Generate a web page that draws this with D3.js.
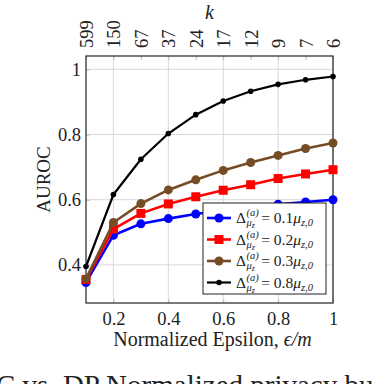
<!DOCTYPE html>
<html>
<head>
<meta charset="utf-8">
<script src="https://cdn.jsdelivr.net/npm/d3@7"></script>
<style>
  html, body { margin: 0; padding: 0; background: #fff; }
  svg { display: block; }
  text { font-family: "Liberation Serif", "DejaVu Serif", serif; fill: #222; }
</style>
</head>
<body>
<div id="chart"></div>
<script>
// AUROC vs. normalized epsilon, one line per Delta setting
const epsilon = [0.1, 0.2, 0.3, 0.4, 0.5, 0.6, 0.7, 0.8, 0.9, 1.0];
const kLabels = ['599', '150', '67', '37', '24', '17', '12', '9', '7', '6'];
const xTicks = [0.2, 0.4, 0.6, 0.8, 1];
const yTicks = [0.4, 0.6, 0.8, 1];

const auroc01 = [0.346, 0.491, 0.526, 0.542, 0.556, 0.567, 0.577, 0.586, 0.593, 0.600];
const auroc02 = [0.355, 0.510, 0.558, 0.587, 0.609, 0.629, 0.646, 0.665, 0.679, 0.692];
const auroc03 = [0.357, 0.530, 0.588, 0.630, 0.661, 0.690, 0.714, 0.736, 0.757, 0.774];
const auroc08 = [0.395, 0.616, 0.724, 0.803, 0.861, 0.903, 0.933, 0.954, 0.968, 0.978];

const seriesNames = ['0.1', '0.2', '0.3', '0.8'];
const seriesValues = [auroc01, auroc02, auroc03, auroc08];
const seriesColors = ['#0000ff', '#ff0000', '#754c24', '#000000'];
const seriesMarks = ['circle', 'square', 'circle', 'dot'];

const width = 374, height = 384;
const pLeft = 86, pRight = 333, pTop = 56, pBottom = 303;

const svg = d3.select('#chart').append('svg')
  .attr('width', width)
  .attr('height', height);

const x = d3.scaleLinear().domain([0.1, 1]).range([pLeft, pRight]);
const y = d3.scaleLinear().domain([0.283, 1.041]).range([pBottom, pTop]);

// grid
const grid = svg.append('g').attr('stroke', '#d9d9d9').attr('stroke-width', 1);
grid.selectAll('line.v').data(xTicks).join('line')
  .attr('x1', d => x(d)).attr('x2', d => x(d))
  .attr('y1', pTop).attr('y2', pBottom);
grid.selectAll('line.h').data(yTicks).join('line')
  .attr('y1', d => y(d)).attr('y2', d => y(d))
  .attr('x1', pLeft).attr('x2', pRight);

// axes with inward ticks
const fmt = d => d === 1 ? '1' : d3.format('.1f')(d);
const xAxis = d3.axisBottom(x).tickValues(xTicks).tickFormat(fmt)
  .tickSizeInner(-4).tickSizeOuter(0).tickPadding(9);
const gx = svg.append('g').attr('transform', `translate(0,${pBottom})`).call(xAxis);

const yAxis = d3.axisLeft(y).tickValues(yTicks).tickFormat(fmt)
  .tickSizeInner(-4).tickSizeOuter(0).tickPadding(5);
const gy = svg.append('g').attr('transform', `translate(${pLeft},0)`).call(yAxis);

const kAxis = d3.axisTop(x).tickValues(epsilon).tickFormat((d, i) => kLabels[i])
  .tickSizeInner(-4).tickSizeOuter(0);
const gk = svg.append('g').attr('transform', `translate(0,${pTop})`).call(kAxis);
gk.selectAll('.tick text')
  .attr('transform', 'rotate(-90)')
  .attr('x', 8)
  .attr('y', 0)
  .attr('dy', '0.35em')
  .attr('text-anchor', 'start');

[gx, gy, gk].forEach(g => {
  g.select('.domain').remove();
  g.selectAll('.tick line').attr('stroke', '#bbb');
  g.selectAll('.tick text')
    .attr('font-family', '"Liberation Serif", serif')
    .attr('font-size', 18.5)
    .attr('fill', '#222');
});

svg.append('rect')
  .attr('x', pLeft).attr('y', pTop)
  .attr('width', pRight - pLeft).attr('height', pBottom - pTop)
  .attr('fill', 'none').attr('stroke', '#222').attr('stroke-width', 1.2);

// series
const line = d3.line().x((d, i) => x(epsilon[i])).y(d => y(d));

function drawMark(g, kind, cx, cy, color) {
  if (kind === 'circle') {
    g.append('circle').attr('cx', cx).attr('cy', cy).attr('r', 4.5).attr('fill', color);
  } else if (kind === 'square') {
    g.append('rect').attr('x', cx - 4.5).attr('y', cy - 4.5)
      .attr('width', 9).attr('height', 9).attr('fill', color);
  } else {
    g.append('circle').attr('cx', cx).attr('cy', cy).attr('r', 2.8).attr('fill', color);
  }
}

seriesValues.forEach((vals, s) => {
  const g = svg.append('g');
  g.append('path').datum(vals)
    .attr('d', line)
    .attr('fill', 'none')
    .attr('stroke', seriesColors[s])
    .attr('stroke-width', s === 3 ? 2.2 : 2.6)
    .attr('stroke-linejoin', 'round');
  vals.forEach((v, i) => drawMark(g, seriesMarks[s], x(epsilon[i]), y(v), seriesColors[s]));
});

// legend
const lg = svg.append('g');
const lx = 203, ly = 203, lw = 123, lh = 91;
lg.append('rect').attr('x', lx).attr('y', ly).attr('width', lw).attr('height', lh)
  .attr('fill', '#fff').attr('stroke', '#222').attr('stroke-width', 1);

seriesNames.forEach((name, s) => {
  const cy = ly + 15 + s * 21.5;
  lg.append('line').attr('x1', lx + 4).attr('x2', lx + 28).attr('y1', cy).attr('y2', cy)
    .attr('stroke', seriesColors[s]).attr('stroke-width', s === 3 ? 2.2 : 2.6);
  drawMark(lg, seriesMarks[s], lx + 16, cy, seriesColors[s]);

  const tx = lx + 33, base = cy + 5;
  const delta = lg.append('text').attr('x', tx).attr('y', base).attr('font-size', 15.5).text('Δ');
  const dw = delta.node().getComputedTextLength();
  const sup = lg.append('text').attr('x', tx + dw + 0.5).attr('y', base - 7)
    .attr('font-size', 10.5).attr('font-style', 'italic').text('(a)');
  const sub = lg.append('text').attr('x', tx + dw + 0.5).attr('y', base + 3)
    .attr('font-size', 10.5).attr('font-style', 'italic');
  sub.append('tspan').text('μ');
  sub.append('tspan').attr('font-size', 8).attr('dy', 2).text('z');
  const sw = Math.max(sup.node().getComputedTextLength(), sub.node().getComputedTextLength());
  const rest = lg.append('text').attr('x', tx + dw + sw + 3).attr('y', base).attr('font-size', 15.5);
  rest.append('tspan').text('= ' + name);
  rest.append('tspan').attr('font-style', 'italic').text('μ');
  rest.append('tspan').attr('font-size', 10.5).attr('font-style', 'italic').attr('dy', 3).text('z,0');
});

// axis titles
svg.append('text')
  .attr('x', (pLeft + pRight) / 2).attr('y', 19)
  .attr('text-anchor', 'middle').attr('font-size', 20).attr('font-style', 'italic')
  .text('k');

svg.append('text')
  .attr('transform', `translate(50,${(pTop + pBottom) / 2}) rotate(-90)`)
  .attr('text-anchor', 'middle').attr('font-size', 19)
  .text('AUROC');

const xl = svg.append('text')
  .attr('x', (pLeft + pRight) / 2 + 3).attr('y', 346)
  .attr('text-anchor', 'middle').attr('font-size', 20);
xl.append('tspan').text('Normalized Epsilon, ');
xl.append('tspan').attr('font-style', 'italic').text('ϵ/m');

// caption, cut off by the page edge
svg.append('text')
  .attr('x', -4).attr('y', 394.5)
  .attr('font-family', '"Liberation Serif", serif')
  .attr('font-size', 29)
  .attr('fill', '#111')
  .text('C vs. DP Normalized privacy budget');
</script>
</body>
</html>
